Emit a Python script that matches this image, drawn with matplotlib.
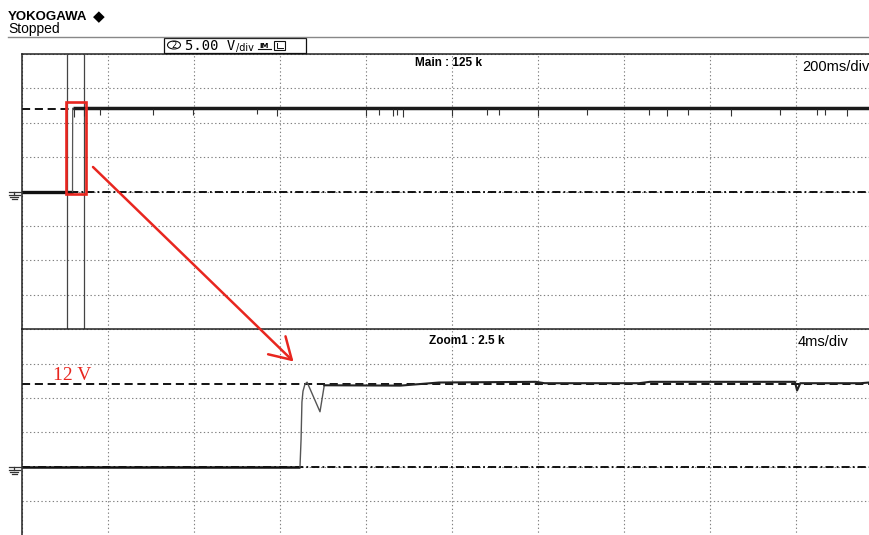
import matplotlib
matplotlib.use("Agg")
import matplotlib.pyplot as plt
from matplotlib.patches import Rectangle, Ellipse
import numpy as np

W, H, DPI = 870, 535, 100

# ---- scope settings ----
volts_per_div = 5.0
main_ms_per_div = 200.0
zoom_ms_per_div = 4.0
n_hdiv = 10
n_vdiv = 8
level_v = 12.0
zoom_start_ms = 104.7          # left cursor of the zoom window in the main record

# ---- main record (200 ms/div) ----
main_low_t = [0.0, 117.5]
main_low_v = [0.0, 0.0]
main_edge_t = [117.5, 117.6, 117.9]
main_edge_v = [0.0, 6.0, 12.1]
main_high_t = [117.9, 2000.0]
main_high_v = [12.1, 12.1]
# deeper dips riding on the 12 V level: time (ms) and lowest voltage
dip_t = [120.9, 144.2, 181.4, 304.7, 397.7, 546.5, 593.0, 800.0, 830.2, 862.8,
         872.1, 886.0, 1000.0, 1081.4, 1109.3, 1200.0, 1314.0, 1458.1, 1500.0,
         1548.8, 1648.8, 1762.8, 1848.8, 1867.4, 1918.6]
dip_v = [10.9, 11.0, 11.2, 11.1, 11.2, 11.3, 11.0, 11.0, 11.2, 11.0,
         11.1, 10.9, 11.0, 11.1, 11.2, 11.0, 11.2, 11.1, 11.0,
         11.2, 11.0, 11.1, 11.1, 11.2, 11.0]

# ---- zoom record (4 ms/div) ----
zoom_low_t = [0.0, 12.93]
zoom_low_v = [0.0, 0.0]
zoom_edge_t = [12.93, 12.98, 13.02, 13.07, 13.16, 13.26, 13.86, 14.06]
zoom_edge_v = [0.0, 4.0, 9.4, 11.0, 12.0, 12.3, 8.0, 11.85]
zoom_high_t = [14.06, 17.6, 19.4, 23.9, 24.3, 28.7, 29.2, 35.95, 36.05, 36.2, 39.0, 40.0]
zoom_high_v = [11.85, 11.8, 12.25, 12.35, 12.15, 12.15, 12.35, 12.35, 11.1, 12.15, 12.15, 12.4]

RED = "#e8261f"
GRID = "#808080"

fig = plt.figure(figsize=(W / DPI, H / DPI), dpi=DPI)
fig.patch.set_facecolor("white")

div_px_y = 34.4
panel_h = n_vdiv * div_px_y
left_px, top1_px = 22, 54
top2_px = top1_px + panel_h
width_px = n_hdiv * 86


def make_panel(top_px, ms_per_div):
    ax = fig.add_axes([left_px / W, 1 - (top_px + panel_h) / H, width_px / W, panel_h / H])
    ax.set_xlim(0, n_hdiv * ms_per_div)
    half = n_vdiv / 2 * volts_per_div
    ax.set_ylim(-half, half)
    ax.set_xticks(np.arange(0, n_hdiv + 1) * ms_per_div)
    ax.set_yticks(np.arange(-n_vdiv / 2, n_vdiv / 2 + 1) * volts_per_div)
    ax.tick_params(length=0, labelbottom=False, labelleft=False)
    ax.grid(True, color=GRID, lw=0.8, ls=(0, (1.2, 2.2)))
    for s in ("right", "bottom"):
        ax.spines[s].set_visible(False)
    for s in ("left", "top"):
        ax.spines[s].set_linewidth(1.1)
        ax.spines[s].set_color("#222222")
    # reference markers: signal level (dashed) and ground (dash-dot)
    ax.axhline(level_v, color="k", lw=1.3, ls=(0, (4.5, 2.6)), zorder=2)
    ax.axhline(0, color="k", lw=1.3, ls=(0, (4.5, 1.7, 1.0, 1.7)), zorder=2)
    return ax


ax1 = make_panel(top1_px, main_ms_per_div)
ax2 = make_panel(top2_px, zoom_ms_per_div)

# main record
ax1.axvline(zoom_start_ms, color="#444444", lw=0.9, zorder=3)
ax1.axvline(zoom_start_ms + n_hdiv * zoom_ms_per_div, color="#444444", lw=0.9, zorder=3)
ax1.plot(main_low_t, main_low_v, color="#111111", lw=2.4, zorder=4, solid_capstyle="butt")
ax1.plot(main_edge_t, main_edge_v, color="#555555", lw=0.9, zorder=4)
ax1.plot(main_high_t, main_high_v, color="#1a1a1a", lw=2.5, zorder=4, solid_capstyle="butt")
ax1.vlines(dip_t, dip_v, level_v, color="#333333", lw=0.8, zorder=4)

# zoom record
ax2.plot(zoom_low_t, zoom_low_v, color="#111111", lw=1.8, zorder=4, solid_capstyle="butt")
ax2.plot(zoom_edge_t, zoom_edge_v, color="#555555", lw=1.0, zorder=4)
ax2.plot(zoom_high_t, zoom_high_v, color="#222222", lw=1.5, zorder=4)

# ---- overlay in pixel coordinates for header and annotations ----
ov = fig.add_axes([0, 0, 1, 1], zorder=10)
ov.set_xlim(0, W)
ov.set_ylim(H, 0)
ov.axis("off")
ov.patch.set_alpha(0)

ov.text(8, 20.5, "YOKOGAWA", fontsize=9.5, fontweight="bold", family="Liberation Sans",
        va="baseline", ha="left")
ov.text(93, 21, "◆", fontsize=11, family="DejaVu Sans", va="baseline", ha="left")
ov.text(8, 33.5, "Stopped", fontsize=10, family="Liberation Sans", va="baseline", ha="left")
ov.plot([8, W], [37, 37], color="#888888", lw=1.0)

# channel / scale box
ov.add_patch(Rectangle((164, 37.5), 142, 15, fill=False, ec="#111111", lw=0.9))
ov.add_patch(Ellipse((174, 45), 13, 8, fill=False, ec="#111111", lw=0.8))
ov.text(174, 45.3, "2", fontsize=6, ha="center", va="center", family="DejaVu Sans")
ov.text(185, 50, "5.00 V", fontsize=10, family="DejaVu Sans Mono", va="baseline", ha="left")
ov.text(236, 50.5, "/div", fontsize=7, family="DejaVu Sans", va="baseline", ha="left")
ov.text(259, 47.5, "IM", fontsize=5, family="DejaVu Sans", va="baseline", ha="left",
        fontweight="bold")
ov.plot([258, 271], [48.5, 48.5], color="#111111", lw=0.8)
ov.add_patch(Rectangle((274, 40.5), 11, 9, fill=False, ec="#111111", lw=0.8))
ov.plot([277, 277, 283], [42.5, 47.5, 47.5], color="#111111", lw=0.7)

ov.text(415, 66, "Main : 125 k", fontsize=8.5, fontweight="bold", family="Liberation Sans",
        va="baseline", ha="left")
ov.text(802, 71, "200ms/div", fontsize=10.5, family="Liberation Sans", va="baseline", ha="left")
ov.text(429, 343.5, "Zoom1 : 2.5 k", fontsize=8.5, fontweight="bold",
        family="Liberation Sans", va="baseline", ha="left")
ov.text(798, 346.5, "4ms/div", fontsize=10.5, family="Liberation Sans", va="baseline", ha="left")


def ground_symbol(y0):
    ov.plot([9, 22], [y0, y0], color="#333333", lw=0.9)
    ov.plot([14.5, 14.5], [y0, y0 + 3], color="#333333", lw=0.9)
    ov.plot([9, 20], [y0 + 3, y0 + 3], color="#333333", lw=0.9)
    ov.plot([10.5, 18.5], [y0 + 5, y0 + 5], color="#333333", lw=0.9)
    ov.plot([12, 17], [y0 + 7, y0 + 7], color="#333333", lw=0.9)


ground_symbol(top1_px + panel_h / 2)
ground_symbol(top2_px + panel_h / 2)

# red highlight of the switch-on edge and pointer to the zoom view
ov.add_patch(Rectangle((66, 101.5), 20, 92.5, fill=False, ec=RED, lw=1.9))
ov.annotate("", xy=(293.5, 361.5), xytext=(93, 167),
            arrowprops=dict(arrowstyle="->,head_length=0.75,head_width=0.45",
                            color=RED, lw=1.8, mutation_scale=20,
                            shrinkA=0, shrinkB=0))
ov.text(53, 380, "12 V", color=RED, fontsize=14, family="Liberation Serif",
        va="baseline", ha="left")

fig.savefig("out.png", dpi=DPI, facecolor="white")
